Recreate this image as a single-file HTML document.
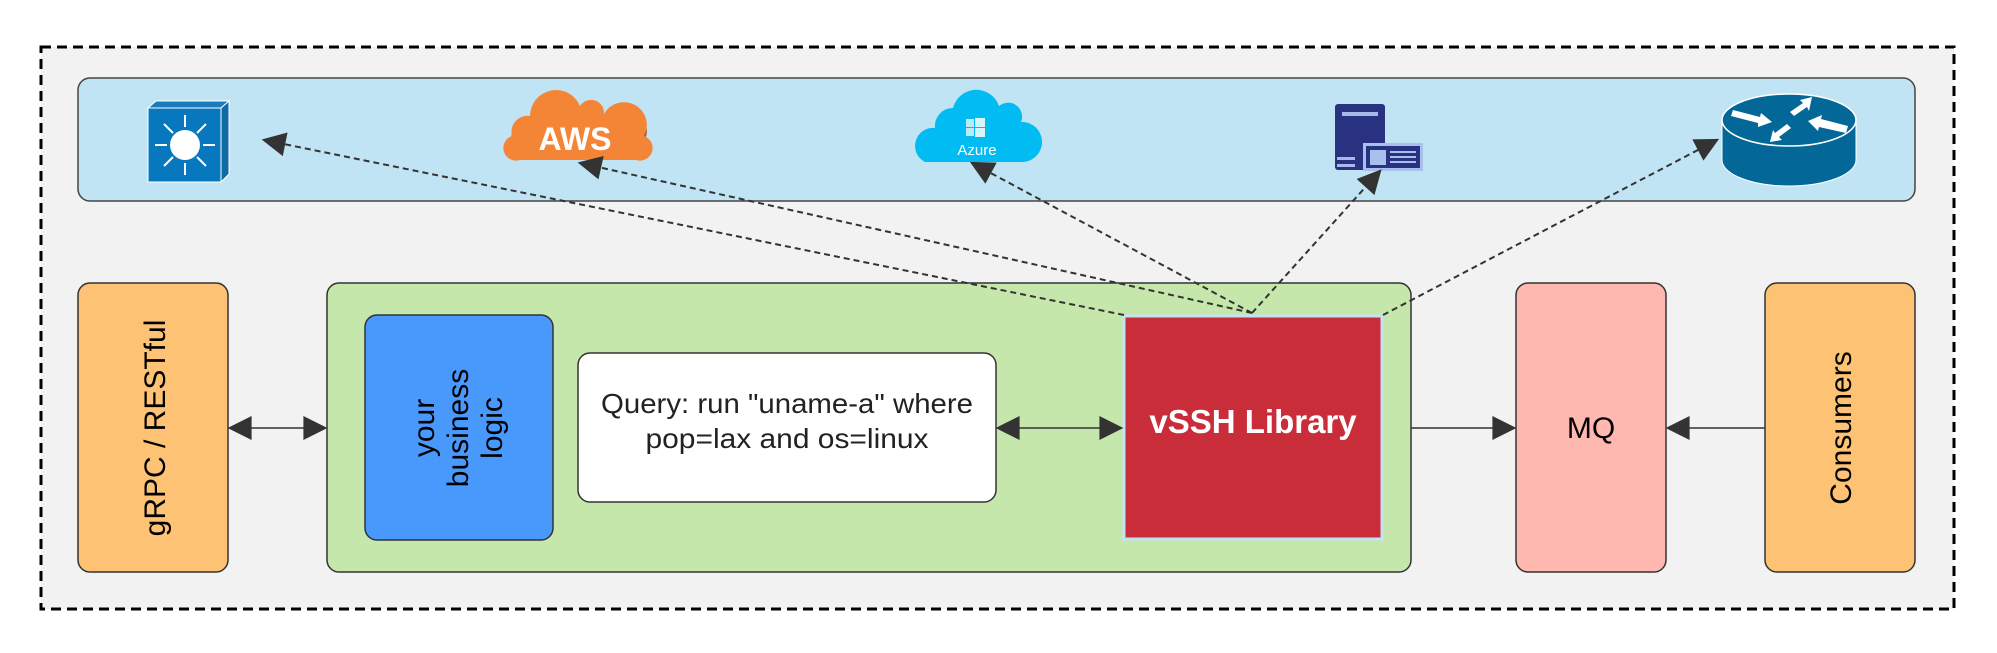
<!DOCTYPE html>
<html><head><meta charset="utf-8"><style>
html,body{margin:0;padding:0;background:#fff;}
svg{display:block;}
text{font-family:"Liberation Sans",sans-serif;}
</style></head><body>
<svg width="1997" height="653" viewBox="0 0 1997 653" xmlns="http://www.w3.org/2000/svg">
<defs>
<marker id="ah2" viewBox="0 0 10 10" refX="9" refY="5" markerWidth="30" markerHeight="24" markerUnits="userSpaceOnUse" orient="auto-start-reverse">
<path d="M0,0 L10,5 L0,10 z" fill="#333"/></marker>
</defs>
<rect x="41" y="47" width="1913" height="562" fill="#f2f2f2" stroke="#000" stroke-width="3" stroke-dasharray="10,6"/>
<rect x="78" y="78" width="1837" height="123" rx="12" fill="#c1e4f5" stroke="#444" stroke-width="1.5"/>

<g>
<polygon points="148,108 156,101 229,101 221,108" fill="#1a7bbf" stroke="#fff" stroke-width="1"/>
<polygon points="221,108 229,101 229,174 221,182" fill="#0f6aa8" stroke="#fff" stroke-width="1"/>
<rect x="148" y="108" width="73" height="74" fill="#0778bd" stroke="#fff" stroke-width="1"/>
<circle cx="185" cy="145" r="15" fill="#fff"/>
<g stroke="#fff" stroke-width="2">
<line x1="185" y1="127" x2="185" y2="115"/><line x1="185" y1="163" x2="185" y2="175"/>
<line x1="167" y1="145" x2="155" y2="145"/><line x1="203" y1="145" x2="215" y2="145"/>
<line x1="173" y1="133" x2="164" y2="124"/><line x1="197" y1="133" x2="206" y2="124"/>
<line x1="173" y1="157" x2="164" y2="166"/><line x1="197" y1="157" x2="206" y2="166"/>
</g></g>

<g>
<path d="M512,142 a16,16 0 0 1 18,-20 a26,26 0 0 1 50,-10 a13,13 0 0 1 24,8 a18,18 0 0 1 40,22 v7 h-132 z" fill="#a9552a"/>
<path d="M512,136 a16,16 0 0 1 18,-20 a26,26 0 0 1 50,-10 a13,13 0 0 1 24,8 a18,18 0 0 1 40,22 a10,10 0 0 1 -8,24 h-116 a10,10 0 0 1 -8,-24 z" fill="#f58536"/>
<text x="575" y="150" font-size="32" font-weight="bold" fill="#fff" text-anchor="middle">AWS</text>
</g>

<g>
<path d="M925,162 a18,18 0 0 1 10,-34 a18,18 0 0 1 18,-20 a24,24 0 0 1 46,-2 a14,14 0 0 1 22,16 a20,20 0 0 1 2,40 z" fill="#00bcf2"/>
<rect x="966" y="119" width="8" height="8" fill="#b8ecfb"/><rect x="975" y="118" width="10" height="9" fill="#d8f5fd"/>
<rect x="966" y="128" width="8" height="8" fill="#b8ecfb"/><rect x="975" y="128" width="10" height="9" fill="#d8f5fd"/>
<text x="977" y="155" font-size="15" fill="#fff" text-anchor="middle">Azure</text>
</g>

<g>
<rect x="1335" y="104" width="50" height="66" rx="3" fill="#283281"/>
<rect x="1342" y="112" width="36" height="4" fill="#a8b8e8"/>
<rect x="1337" y="157" width="18" height="3" fill="#a8b8e8"/>
<rect x="1337" y="164" width="18" height="3" fill="#a8b8e8"/>
<rect x="1363" y="143" width="60" height="28" fill="#a8c0ec"/>
<rect x="1366" y="146" width="54" height="22" fill="#283281"/>
<rect x="1370" y="150" width="16" height="15" fill="#a8c0ec"/>
<rect x="1390" y="151" width="26" height="2" fill="#a8c0ec"/>
<rect x="1390" y="156" width="26" height="2" fill="#a8c0ec"/>
<rect x="1390" y="161" width="26" height="2" fill="#a8c0ec"/>
</g>

<g>
<path d="M1722,120 v40 a67,26 0 0 0 134,0 v-40 z" fill="#036897" stroke="#fff" stroke-width="1"/>
<ellipse cx="1789" cy="120" rx="67" ry="26" fill="#036897" stroke="#fff" stroke-width="1.5"/>
<g fill="#fff">
<polygon points="1733,110 1760,117 1761,113 1772,122 1758,127 1758,123 1731,116"/>
<polygon points="1812,97 1800,100 1803,103 1790,112 1794,116 1807,107 1809,111"/>
<polygon points="1770,142 1782,140 1779,137 1791,128 1787,124 1775,133 1773,130"/>
<polygon points="1848,126 1821,119 1822,115 1808,121 1818,131 1819,127 1846,133"/>
</g></g>

<rect x="78" y="283" width="150" height="289" rx="12" fill="#fdc273" stroke="#333" stroke-width="1.5"/>
<text transform="translate(165,428) rotate(-90)" font-size="30" text-anchor="middle" fill="#000">gRPC / RESTful</text>

<rect x="327" y="283" width="1084" height="289" rx="12" fill="#c6e7ac" stroke="#333" stroke-width="1.5"/>
<rect x="365" y="315" width="188" height="225" rx="12" fill="#4999fd" stroke="#333" stroke-width="1.5"/>
<g transform="translate(459,428) rotate(-90)" font-size="30" text-anchor="middle" fill="#000">
<text x="0" y="-25">your</text><text x="0" y="9">business</text><text x="0" y="43">logic</text>
</g>

<rect x="578" y="353" width="418" height="149" rx="12" fill="#fff" stroke="#333" stroke-width="1.5"/>
<text x="787" y="413" font-size="28" text-anchor="middle" fill="#222" textLength="372" lengthAdjust="spacingAndGlyphs">Query: run "uname-a" where</text>
<text x="787" y="448" font-size="28" text-anchor="middle" fill="#222" textLength="283" lengthAdjust="spacingAndGlyphs">pop=lax and os=linux</text>

<rect x="1124" y="316" width="258" height="223" fill="#c92d39" stroke="#c1e4f5" stroke-width="3"/>
<text x="1253" y="433" font-size="33" font-weight="bold" text-anchor="middle" fill="#fff">vSSH Library</text>

<rect x="1516" y="283" width="150" height="289" rx="12" fill="#ffb8b0" stroke="#333" stroke-width="1.5"/>
<text x="1591" y="438" font-size="30" text-anchor="middle" fill="#000">MQ</text>

<rect x="1765" y="283" width="150" height="289" rx="12" fill="#fdc273" stroke="#333" stroke-width="1.5"/>
<text transform="translate(1851,428) rotate(-90)" font-size="30" text-anchor="middle" fill="#000">Consumers</text>

<g stroke="#333" stroke-width="1.5" fill="none">
<line x1="230" y1="428" x2="325" y2="428" marker-start="url(#ah2)" marker-end="url(#ah2)"/>
<line x1="998" y1="428" x2="1121" y2="428" marker-start="url(#ah2)" marker-end="url(#ah2)"/>
<line x1="1411" y1="428" x2="1514" y2="428" marker-end="url(#ah2)"/>
<line x1="1765" y1="428" x2="1668" y2="428" marker-end="url(#ah2)"/>
</g>

<g stroke="#333" stroke-width="2" fill="none" stroke-dasharray="6,4">
<line x1="1124" y1="315" x2="264" y2="140" marker-end="url(#ah2)"/>
<line x1="1252" y1="313" x2="580" y2="163" marker-end="url(#ah2)"/>
<line x1="1252" y1="313" x2="972" y2="163" marker-end="url(#ah2)"/>
<line x1="1252" y1="313" x2="1380" y2="171" marker-end="url(#ah2)"/>
<line x1="1383" y1="315" x2="1717" y2="140" marker-end="url(#ah2)"/>
</g>
</svg>
</body></html>
